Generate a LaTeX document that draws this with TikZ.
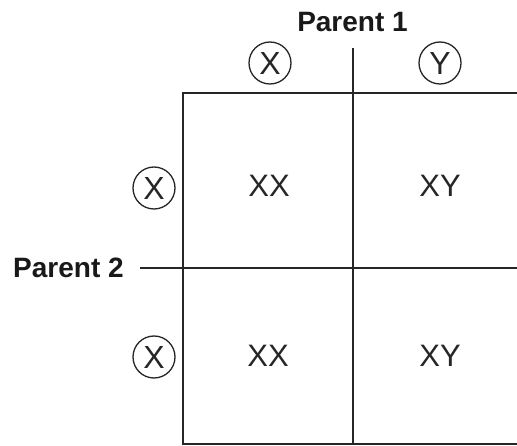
\documentclass[tikz,border=0pt]{standalone}
\usepackage{fontspec}
\setmainfont{Liberation Sans}
\begin{document}
\begin{tikzpicture}[x=1pt,y=-1pt,
  gridline/.style={line width=1.5pt, draw=black!85},
  allele/.style={circle, draw=black!85, line width=1.3pt, minimum size=42pt, inner sep=0pt, font=\fontsize{32}{32}\selectfont, text=black!85},
  cell/.style={inner sep=0pt, font=\fontsize{31}{31}\selectfont, text=black!85},
  parent/.style={inner sep=0pt, font=\bfseries\fontsize{28}{28}\selectfont, text=black!90}]
\useasboundingbox (0,0) rectangle (517,446);
\clip (0,0) rectangle (517,446);
% grid
\coordinate (tl) at (183,93);
\coordinate (bl) at (183,444);
\coordinate (tr) at (530,93);
\coordinate (br) at (530,444);
\coordinate (vtop) at (353,48);
\coordinate (vbot) at (353,444);
\coordinate (hl) at (140,268);
\coordinate (hr) at (530,268);
\draw[gridline] (tr) -- (tl) -- (bl) -- (br);
\draw[gridline] (vtop) -- (vbot);
\draw[gridline] (hl) -- (hr);
% labels
\node[parent, anchor=base] (p1) at (352.5,32) {Parent 1};
\node[parent, anchor=base west] (p2) at (13,278) {Parent 2};
% alleles
\node[allele] (ax) at (270,63) {X};
\node[allele] (ay) at (440,63) {Y};
\node[allele] (bx1) at (154,188) {X};
\node[allele] (bx2) at (154,357) {X};
% cells
\node[cell] (c11) at (269,186) {XX};
\node[cell] (c12) at (440,186) {XY};
\node[cell] (c21) at (268,356) {XX};
\node[cell] (c22) at (440,356) {XY};
\end{tikzpicture}
\end{document}
